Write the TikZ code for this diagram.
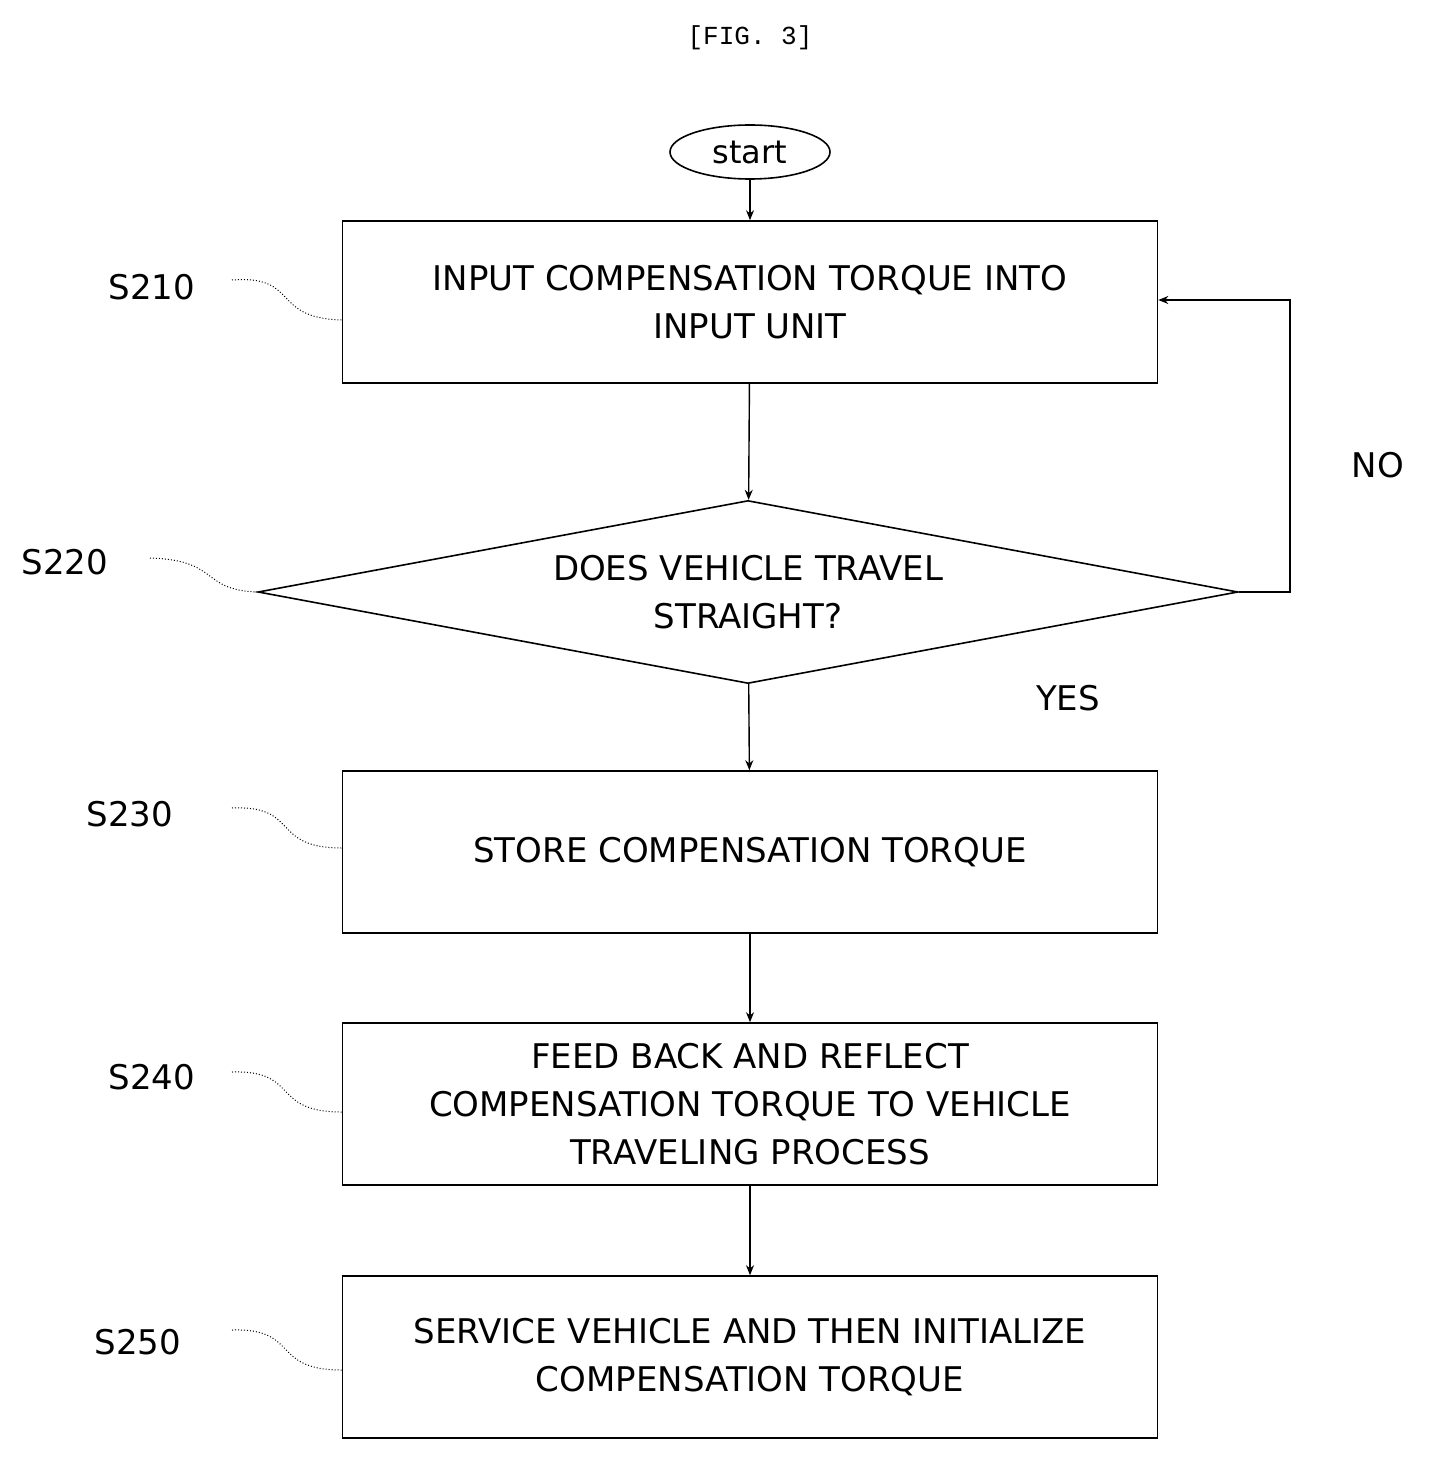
\documentclass[tikz,border=0pt]{standalone}
\usepackage{fontspec}
\setmainfont{DejaVu Sans}
\setmonofont{Liberation Mono}
\usetikzlibrary{shapes.geometric,arrows.meta}
\begin{document}
\begin{tikzpicture}[x=0.5pt,y=-0.5pt,
  box/.style={draw,line width=0.8pt,minimum width=407.5pt,minimum height=81pt,align=center,inner sep=0pt,font=\fontsize{17}{24}\selectfont},
  lbl/.style={font=\fontsize{17}{20}\selectfont},
  arr/.style={-{Stealth[length=5pt,width=4pt]},line width=0.7pt},
  lead/.style={line width=0.5pt,densely dotted}]
\useasboundingbox (0,0) rectangle (1429,1460);
\node[font=\ttfamily\fontsize{13}{15}\selectfont] (title) at (750,38) {[FIG. 3]};
\node[draw,ellipse,line width=0.8pt,minimum width=80pt,minimum height=27pt,inner sep=0pt,font=\fontsize{16}{18}\selectfont] (start) at (750,152) {start};
\node[box] (s210) at (750,302) {INPUT COMPENSATION TORQUE INTO\\INPUT UNIT};
\node[draw,diamond,line width=0.8pt,aspect=5.36,minimum width=490pt,minimum height=91.5pt,inner sep=0pt,align=center,font=\fontsize{17}{24}\selectfont] (s220) at (748,592) {DOES VEHICLE TRAVEL\\STRAIGHT?};
\node[box] (s230) at (750,852) {STORE COMPENSATION TORQUE};
\node[box] (s240) at (750,1104) {FEED BACK AND REFLECT\\COMPENSATION TORQUE TO VEHICLE\\TRAVELING PROCESS};
\node[box] (s250) at (750,1357) {SERVICE VEHICLE AND THEN INITIALIZE\\COMPENSATION TORQUE};
\draw[arr] (start) -- (s210);
\draw[arr] (s210) -- (s220);
\draw[arr] (s220) -- (s230);
\draw[arr] (s230) -- (s240);
\draw[arr] (s240) -- (s250);
\coordinate (c1) at (1290,592);
\coordinate (c2) at (1290,300);
\draw[arr] (s220.east) -- (c1) -- (c2) -- (s210.east |- c2);
\node[lbl] (no) at (1378,465) {NO};
\node[lbl] (yes) at (1068,698) {YES};
\node[lbl] (l210) at (152,287) {S210};
\node[lbl] (l220) at (65,562) {S220};
\node[lbl] (l230) at (130,814) {S230};
\node[lbl] (l240) at (152,1077) {S240};
\node[lbl] (l250) at (138,1342) {S250};
\draw[lead] (232,280) .. controls (300,275) and (270,318) .. (s210.west |- 0,320);
\draw[lead] (150,558) .. controls (220,560) and (200,590) .. (s220.west);
\draw[lead] (232,808) .. controls (300,805) and (270,848) .. (s230.west |- 0,848);
\draw[lead] (232,1072) .. controls (300,1070) and (270,1112) .. (s240.west |- 0,1112);
\draw[lead] (232,1330) .. controls (300,1328) and (270,1370) .. (s250.west |- 0,1370);
\end{tikzpicture}
\end{document}
